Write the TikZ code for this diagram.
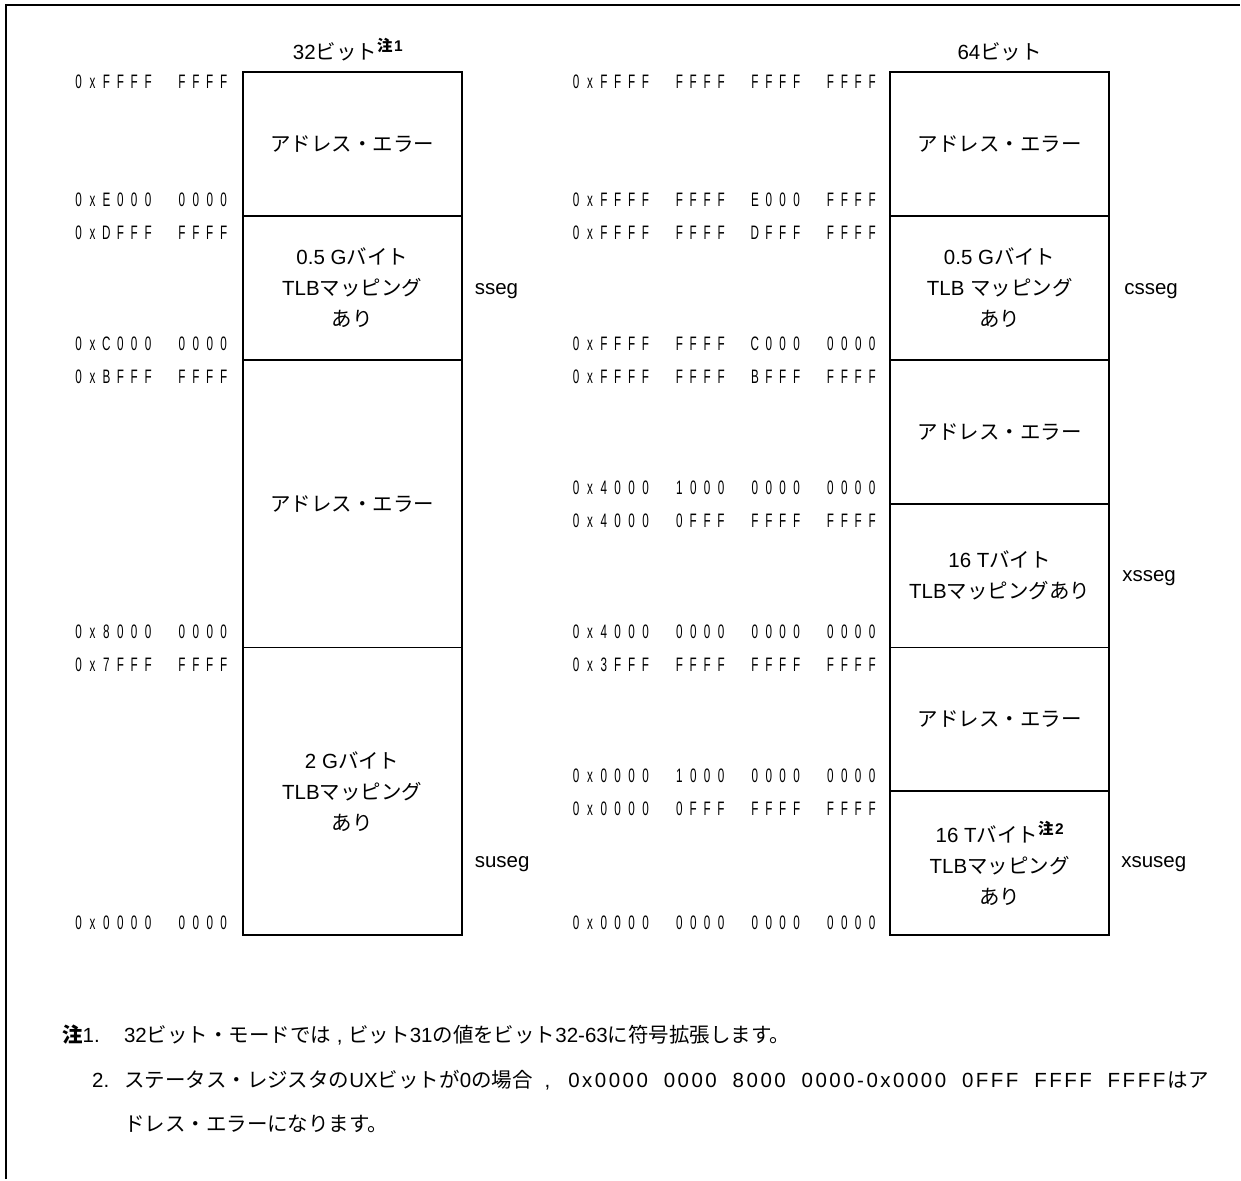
\documentclass[tikz,border=0pt]{standalone}
\usepackage{fontspec}
\setmainfont{Liberation Sans}
\newfontfamily\jp{Noto Sans CJK JP}
\newfontfamily\hexfont[FakeStretch=0.6]{Liberation Sans}
\newcommand\jj[1]{{\jp #1}}
\newcommand\notesup[1]{\raisebox{8pt}{\fontsize{15.5}{16}\selectfont\bfseries\jj{注}\kern1.5pt#1}}
\ExplSyntaxOn
\cs_new_protected:Npn \hx_group:n #1
  { \tl_map_inline:nn {#1} { \makebox[13.9pt][c]{##1} } }
\NewDocumentCommand\hexs{m}
  {
    \group_begin:
    \hexfont\fontsize{19.5}{20}\selectfont
    \seq_set_split:Nnn \l_tmpa_seq { ~ } {#1}
    \bool_set_true:N \l_tmpa_bool
    \seq_map_inline:Nn \l_tmpa_seq
      {
        \bool_if:NF \l_tmpa_bool { \hspace{20pt} }
        \bool_set_false:N \l_tmpa_bool
        \hx_group:n {##1}
      }
    \group_end:
  }
\cs_new_protected:Npn \hx_track:nn #1#2
  { \tl_map_inline:nn {#2} { ##1 \kern #1 } }
\NewDocumentCommand\trackhex{mm}
  {
    \seq_set_split:Nnn \l_tmpb_seq { ~ } {#2}
    \bool_set_true:N \l_tmpb_bool
    \seq_map_inline:Nn \l_tmpb_seq
      {
        \bool_if:NF \l_tmpb_bool { \hspace{5.7pt~plus~1fil} }
        \bool_set_false:N \l_tmpb_bool
        \hx_track:nn {#1} {##1}
      }
  }
\ExplSyntaxOff
\begin{document}
\begin{tikzpicture}[x=1pt,y=-1pt,
  seg/.style={draw,line width=1.8pt,rectangle,minimum width=219pt,inner sep=0pt,align=center,font=\fontsize{20.5}{31}\selectfont},
  hexl/.style={anchor=base east,inner sep=0pt},
  tx/.style={inner sep=0pt,font=\fontsize{20.5}{31}\selectfont}]
\path[fill=white] (0,0) rectangle (1241,1180);
\coordinate (fbl) at (6,1180);
\coordinate (ftl) at (6,5);
\coordinate (ftr) at (1241,5);
\draw[line width=2pt] (fbl) -- (ftl) -- (ftr);

% titles
\node[tx,anchor=base west] (t32) at (293,60) {32\jj{ビット}\notesup{1}};
\node[tx,anchor=base] (t64) at (1000.5,60) {64\jj{ビット}};

% 32-bit boxes
\node[seg,minimum height=144pt] (l1) at (352.5,144) {\jj{アドレス・エラー}};
\node[seg,minimum height=144pt] (l2) at (352.5,288) {0.5 G\jj{バイト}\\TLB\jj{マッピング}\\\jj{あり}};
\node[seg,minimum height=288pt] (l3) at (352.5,504) {\jj{アドレス・エラー}};
\node[seg,minimum height=288pt] (l4) at (352.5,792) {2 G\jj{バイト}\\TLB\jj{マッピング}\\\jj{あり}};

% 64-bit boxes
\node[seg,minimum height=144pt] (r1) at (1000.5,144) {\jj{アドレス・エラー}};
\node[seg,minimum height=144pt] (r2) at (1000.5,288) {0.5 G\jj{バイト}\\TLB \jj{マッピング}\\\jj{あり}};
\node[seg,minimum height=144pt] (r3) at (1000.5,432) {\jj{アドレス・エラー}};
\node[seg,minimum height=144pt] (r4) at (1000.5,576) {16 T\jj{バイト}\\TLB\jj{マッピングあり}};
\node[seg,minimum height=144pt] (r5) at (1000.5,720) {\jj{アドレス・エラー}};
\node[seg,minimum height=144pt] (r6) at (1000.5,864) {16 T\jj{バイト}\notesup{2}\\TLB\jj{マッピング}\\\jj{あり}};

% segment names
\node[tx,anchor=base west] (sseg) at (475,295) {sseg};
\node[tx,anchor=base west] (suseg) at (475,868) {suseg};
\node[tx,anchor=base west] (csseg) at (1125,295) {csseg};
\node[tx,anchor=base west] (xsseg) at (1123,582) {xsseg};
\node[tx,anchor=base west] (xsuseg) at (1122,868) {xsuseg};

% 32-bit addresses
\node[hexl] (a1) at (231,89) {\hexs{0xFFFF FFFF}};
\node[hexl] (a2) at (231,207) {\hexs{0xE000 0000}};
\node[hexl] (a3) at (231,240) {\hexs{0xDFFF FFFF}};
\node[hexl] (a4) at (231,351) {\hexs{0xC000 0000}};
\node[hexl] (a5) at (231,384) {\hexs{0xBFFF FFFF}};
\node[hexl] (a6) at (231,639) {\hexs{0x8000 0000}};
\node[hexl] (a7) at (231,672) {\hexs{0x7FFF FFFF}};
\node[hexl] (a8) at (231,930) {\hexs{0x0000 0000}};

% 64-bit addresses
\node[hexl] (b1) at (880,89) {\hexs{0xFFFF FFFF FFFF FFFF}};
\node[hexl] (b2) at (880,207) {\hexs{0xFFFF FFFF E000 FFFF}};
\node[hexl] (b3) at (880,240) {\hexs{0xFFFF FFFF DFFF FFFF}};
\node[hexl] (b4) at (880,351) {\hexs{0xFFFF FFFF C000 0000}};
\node[hexl] (b5) at (880,384) {\hexs{0xFFFF FFFF BFFF FFFF}};
\node[hexl] (b6) at (880,495) {\hexs{0x4000 1000 0000 0000}};
\node[hexl] (b7) at (880,528) {\hexs{0x4000 0FFF FFFF FFFF}};
\node[hexl] (b8) at (880,639) {\hexs{0x4000 0000 0000 0000}};
\node[hexl] (b9) at (880,672) {\hexs{0x3FFF FFFF FFFF FFFF}};
\node[hexl] (b10) at (880,783) {\hexs{0x0000 1000 0000 0000}};
\node[hexl] (b11) at (880,816) {\hexs{0x0000 0FFF FFFF FFFF}};
\node[hexl] (b12) at (880,930) {\hexs{0x0000 0000 0000 0000}};

% notes
\node[tx,anchor=base west] (n1) at (62,1043) {{\bfseries\jj{注}}1.};
\node[tx,anchor=base west] (n1t) at (124,1043) {32\jj{ビット・モードでは} , \jj{ビット}31\jj{の値をビット}32-63\jj{に符号拡張します。}};
\node[tx,anchor=base west] (n2) at (92,1088) {2.};
\node[tx,anchor=base west] (n2t) at (124,1088) {\jj{ステータス・レジスタの}UX\jj{ビットが}0\jj{の場合}\hspace{12pt},\hspace{18pt}\makebox[600pt][s]{\trackhex{2.5pt}{0x0000 0000 8000 0000-0x0000 0FFF FFFF FFFF}}\jj{はア}};
\node[tx,anchor=base west] (n3t) at (124,1132) {\jj{ドレス・エラーになります。}};
\end{tikzpicture}
\end{document}
